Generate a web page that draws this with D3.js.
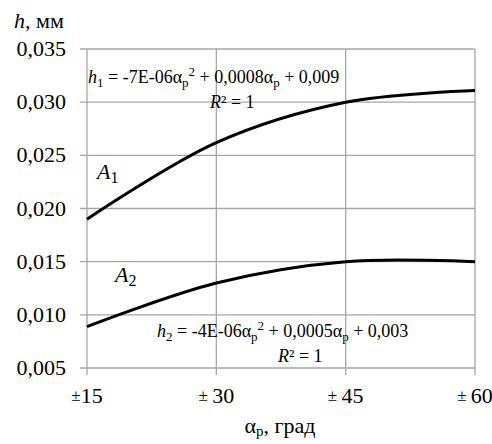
<!DOCTYPE html>
<html>

<head>
    <meta charset="utf-8" />
    <script src="https://d3js.org/d3.v7.min.js"></script>
    <style>
        svg text, svg tspan { font-family: "Liberation Serif", "Times New Roman", serif !important; }
    </style>
</head>

<body style="margin:0">
    <script>

        const w = 492;
        const h = 444;
        const margin = { top: 49, right: 17, bottom: 76, left: 87 };
        const fontFam = "Liberation Serif";

        // angle values (degrees) and thickness h for each curve
        const angles = [15, 30, 45, 60];
        const a1Values = [0.0190, 0.0262, 0.0300, 0.0311];
        const a2Values = [0.0089, 0.0130, 0.0150, 0.0150];
        const yTicks = [0.005, 0.010, 0.015, 0.020, 0.025, 0.030, 0.035];
        const xTickLabels = ["15", "30", "45", "60"];

        const svg = d3.select("body")
            .append("svg")
            .attr("width", w)
            .attr("height", h)
            .attr("font-family", fontFam)

        const xScale = d3.scaleLinear()
            .domain([15, 60])
            .range([margin.left, w - margin.right])

        const yScale = d3.scaleLinear()
            .domain([0.005, 0.035])
            .range([h - margin.bottom, margin.top])

        const grid = "#a6a6a6";

        // grid lines, with the small tick stubs outside the plot
        svg.append("g")
            .selectAll("line")
            .data(yTicks)
            .join("line")
            .attr("x1", margin.left - 7)
            .attr("x2", w - margin.right)
            .attr("y1", d => yScale(d))
            .attr("y2", d => yScale(d))
            .attr("stroke", grid)
            .attr("stroke-width", 1.3)

        svg.append("g")
            .selectAll("line")
            .data(angles)
            .join("line")
            .attr("x1", d => xScale(d))
            .attr("x2", d => xScale(d))
            .attr("y1", margin.top)
            .attr("y2", h - margin.bottom + 7)
            .attr("stroke", grid)
            .attr("stroke-width", 1.3)

        svg.selectAll("text.ytick")
            .data(yTicks)
            .join("text")
            .attr("class", "ytick")
            .attr("x", margin.left - 21)
            .attr("y", d => yScale(d) + 7)
            .attr("text-anchor", "end")
            .attr("font-family", fontFam)
            .attr("font-size", 22)
            .text(d => d3.format(".3f")(d).replace(".", ","))

        // x tick labels: small raised ± then the number
        const xt = svg.selectAll("text.xtick")
            .data(angles)
            .join("text")
            .attr("class", "xtick")
            .attr("x", d => xScale(d))
            .attr("y", h - margin.bottom + 35)
            .attr("text-anchor", "middle")
            .attr("font-family", fontFam)
            .attr("font-size", 22)
        xt.append("tspan").attr("dy", -2).attr("font-size", 17).text((d, i) => i ? "± " : "±")
        xt.append("tspan").attr("dy", 2).text((d, i) => xTickLabels[i])

        // curves
        const line = d3.line()
            .x((d, i) => xScale(angles[i]))
            .y(d => yScale(d))
            .curve(d3.curveCatmullRom.alpha(0.5))

        svg.selectAll("path.curve")
            .data([a1Values, a2Values])
            .join("path")
            .attr("class", "curve")
            .attr("d", line)
            .attr("fill", "none")
            .attr("stroke", "#000")
            .attr("stroke-width", 3)

        // axis titles
        const yTitle = svg.append("text")
            .attr("x", 14)
            .attr("y", 28)
            .attr("font-family", fontFam)
            .attr("font-size", 22)
        yTitle.append("tspan").attr("font-style", "italic").text("h")
        yTitle.append("tspan").text(", мм")

        const xTitle = svg.append("text")
            .attr("x", 280)
            .attr("y", 433)
            .attr("text-anchor", "middle")
            .attr("font-family", fontFam)
            .attr("font-size", 22)
        xTitle.append("tspan").text("α")
        xTitle.append("tspan").attr("dy", 3).attr("font-size", 15).text("р")
        xTitle.append("tspan").attr("dy", -3).text(", град")

        // curve labels
        function curveLabel(x, y, sub) {
            const t = svg.append("text")
                .attr("x", x)
                .attr("y", y)
                .attr("font-family", fontFam)
                .attr("font-size", 22)
            t.append("tspan").attr("font-style", "italic").text("A")
            t.append("tspan").attr("dy", 4).attr("font-size", 16).text(sub)
        }
        curveLabel(97, 179, "1")
        curveLabel(115, 282, "2")

        // trendline equations
        function equation(x, y, idx, c2, c1, c0) {
            const t = svg.append("text")
                .attr("x", x)
                .attr("y", y)
                .attr("font-family", fontFam)
                .attr("font-size", 18)
            t.append("tspan").attr("font-style", "italic").text("h")
            t.append("tspan").attr("dy", 4).attr("font-size", 13).text(idx)
            t.append("tspan").attr("dy", -4).text(" = " + c2 + "α")
            t.append("tspan").attr("dy", 4).attr("font-size", 13).text("p")
            t.append("tspan").attr("dy", -11).attr("font-size", 13).text("2")
            t.append("tspan").attr("dy", 7).text(" + " + c1 + "α")
            t.append("tspan").attr("dy", 4).attr("font-size", 13).text("p")
            t.append("tspan").attr("dy", -4).text(" + " + c0)
        }
        function r2(x, y) {
            const t = svg.append("text")
                .attr("x", x)
                .attr("y", y)
                .attr("font-family", fontFam)
                .attr("font-size", 18)
            t.append("tspan").attr("font-style", "italic").text("R")
            t.append("tspan").text("² = 1")
        }
        equation(88, 83, "1", "-7E-06", "0,0008", "0,009")
        r2(210, 108)
        equation(157, 337, "2", "-4E-06", "0,0005", "0,003")
        r2(278, 362)

    </script>
</body>

</html>
